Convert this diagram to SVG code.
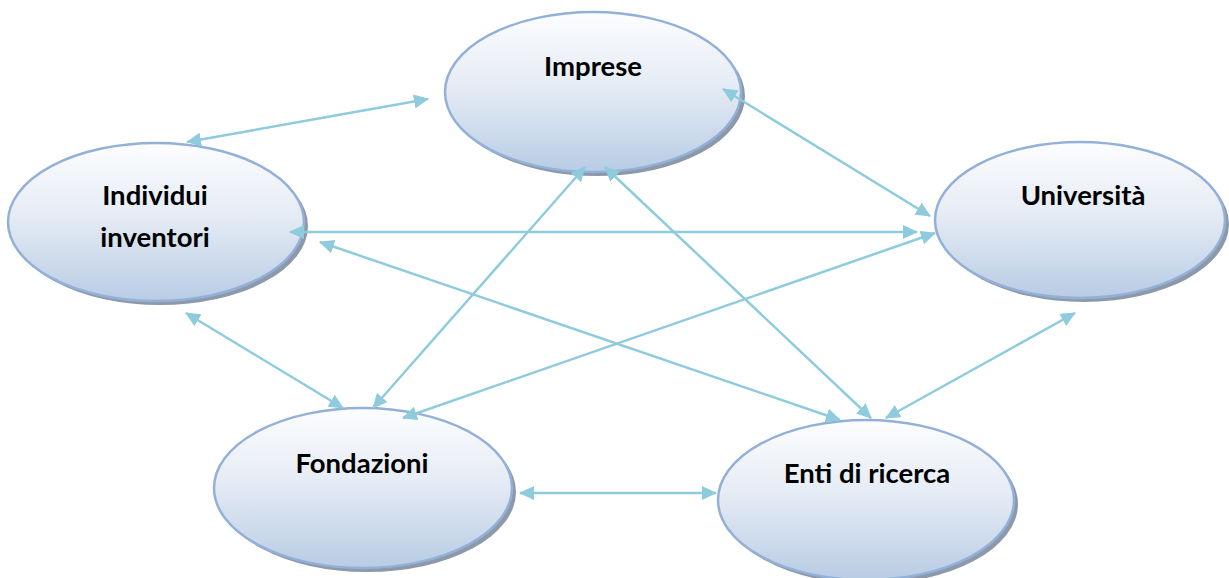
<svg xmlns="http://www.w3.org/2000/svg" width="1229" height="578" viewBox="0 0 1229 578">
<defs>
<linearGradient id="g" x1="0" y1="0" x2="0" y2="1">
<stop offset="0" stop-color="#fcfdfe"/>
<stop offset="0.45" stop-color="#e6ecf5"/>
<stop offset="1" stop-color="#b8cce4"/>
</linearGradient>
<marker id="ah" viewBox="0 0 15 14" refX="14" refY="7" markerWidth="15" markerHeight="14" markerUnits="userSpaceOnUse" orient="auto-start-reverse">
<path d="M0,0 L15,7 L0,14 z" fill="#8ecbdc"/>
</marker>
<style>
.sh{fill:#8d99a9;}
.el{fill:url(#g);stroke:#93b0d8;stroke-width:2.5;}
.lb{font-family:Lato,"Open Sans",sans-serif;font-weight:bold;font-size:27.5px;fill:#000;text-anchor:middle;}
.cn line{stroke:#8ecbdc;stroke-width:2.5;marker-start:url(#ah);marker-end:url(#ah);}
</style>
</defs>
<rect width="1229" height="578" fill="#fff"/>
<g id="n-imprese">
<ellipse class="sh" cx="597" cy="96" rx="148" ry="80"/>
<ellipse class="el" cx="593" cy="92" rx="148" ry="80"/>
<text class="lb" x="593" y="76">Imprese</text>
</g>
<g id="n-individui">
<ellipse class="sh" cx="160" cy="226" rx="148" ry="79"/>
<ellipse class="el" cx="156" cy="222" rx="148" ry="79"/>
<text class="lb" x="155" y="205">Individui</text>
<text class="lb" x="155" y="247">inventori</text>
</g>
<g id="n-universita">
<ellipse class="sh" cx="1084" cy="224" rx="145" ry="78"/>
<ellipse class="el" cx="1080" cy="220" rx="145" ry="78"/>
<text class="lb" x="1083" y="205">Università</text>
</g>
<g id="n-fondazioni">
<ellipse class="sh" cx="367" cy="492" rx="149" ry="80"/>
<ellipse class="el" cx="363" cy="488" rx="149" ry="80"/>
<text class="lb" x="362" y="473">Fondazioni</text>
</g>
<g id="n-enti">
<ellipse class="sh" cx="870" cy="504" rx="148" ry="80"/>
<ellipse class="el" cx="866" cy="500" rx="148" ry="80"/>
<text class="lb" x="867" y="483">Enti di ricerca</text>
</g>
<g id="connectors" class="cn">
<line x1="187" y1="142" x2="428" y2="99"/>
<line x1="723" y1="89" x2="930" y2="216"/>
<line x1="290" y1="232" x2="917" y2="232"/>
<line x1="320" y1="242" x2="840" y2="420"/>
<line x1="186" y1="313" x2="343" y2="408"/>
<line x1="585" y1="167" x2="373" y2="408"/>
<line x1="605" y1="167" x2="871" y2="418"/>
<line x1="403" y1="418" x2="935" y2="233"/>
<line x1="1075" y1="313" x2="886" y2="418"/>
<line x1="520" y1="493" x2="716" y2="493"/>
</g>
</svg>
